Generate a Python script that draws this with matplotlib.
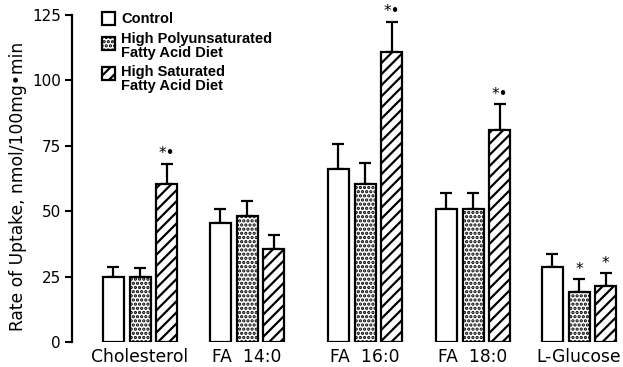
import matplotlib
matplotlib.use("Agg")
import matplotlib.pyplot as plt
import matplotlib.patches as patches
import numpy as np

# -----------------------------
# Data
# -----------------------------
categories = ["Cholesterol", "FA  14:0", "FA  16:0", "FA  18:0", "L-Glucose"]
series = ["Control", "High Polyunsaturated\nFatty Acid Diet", "High Saturated\nFatty Acid Diet"]

control = [25.0, 45.5, 66.0, 51.0, 28.5]
control_err = [3.8, 5.5, 9.5, 6.0, 5.3]
poly = [25.0, 48.0, 60.5, 51.0, 19.0]
poly_err = [3.2, 6.0, 8.0, 6.0, 5.0]
sat = [60.5, 35.5, 111.0, 81.0, 21.5]
sat_err = [7.5, 5.5, 11.5, 9.8, 4.8]

# significance marks per series/category
control_marks = ["", "", "", "", ""]
poly_marks = ["", "", "", "", "*"]
sat_marks = ["*•", "", "*•", "*•", "*"]

yticks = [0, 25, 50, 75, 100, 125]

# -----------------------------
# Layout / style
# -----------------------------
W, H = 623, 367
group_pos = [68, 175, 293, 401, 507]   # group centres (pixel-like x units)
step = 26.7
bar_w = 21
hatches = ["", "....", "///"]

plt.rcParams["font.family"] = ["DejaVu Sans"]
plt.rcParams["hatch.linewidth"] = 1.6
plt.rcParams["hatch.color"] = "black"

fig = plt.figure(figsize=(W / 100, H / 100), dpi=100)
ax = fig.add_axes([72 / W, 25 / H, (W - 72) / W, 327 / H])
ax.set_xlim(0, W - 72)
ax.set_ylim(0, 125)

vals = [control, poly, sat]
errs = [control_err, poly_err, sat_err]
marks = [control_marks, poly_marks, sat_marks]
x0 = np.array(group_pos, dtype=float)

for i in range(3):
    xs = x0 + (i - 1) * step
    ax.bar(xs, vals[i], width=bar_w, color="white", edgecolor="black",
           linewidth=1.6, hatch=hatches[i], zorder=2)
    ax.errorbar(xs, vals[i], yerr=[np.zeros(5), errs[i]], fmt="none",
                ecolor="black", elinewidth=1.6, capsize=4, capthick=1.6, zorder=1)
    for x, v, e, m in zip(xs, vals[i], errs[i], marks[i]):
        if m:
            ax.text(x, v + e + 1.0, m, ha="center", va="bottom",
                    fontsize=11, color="black")

# -----------------------------
# Axes styling
# -----------------------------
for s in ["top", "right", "bottom"]:
    ax.spines[s].set_visible(False)
ax.spines["left"].set_linewidth(1.6)
ax.set_yticks(yticks)
ax.set_yticklabels([str(t) for t in yticks], fontsize=11)
ax.tick_params(axis="y", direction="out", length=5, width=1.5, pad=3)
ax.set_xticks(x0)
ax.set_xticklabels(categories, fontsize=12.3)
ax.tick_params(axis="x", length=0, pad=4)

fig.text(18 / W, 1 - 186 / H, "Rate of Uptake, nmol/100mg•min", rotation=90,
         ha="center", va="center", fontsize=12.3)

# -----------------------------
# Legend (drawn by hand)
# -----------------------------
def fig_box(px, py, w, h, hatch):
    r = patches.Rectangle((px / W, 1 - (py + h) / H), w / W, h / H,
                          transform=fig.transFigure, facecolor="white",
                          edgecolor="black", linewidth=1.6, hatch=hatch)
    fig.patches.append(r)

box_tops = [12, 37, 67]
text_rows = [[19], [39, 53], [72, 86]]
for i in range(3):
    fig_box(102, box_tops[i], 13, 13, hatches[i])
    for line, ty in zip(series[i].split("\n"), text_rows[i]):
        fig.text(121 / W, 1 - ty / H, line, ha="left", va="center",
                 fontsize=10.5, fontweight="bold",
                 family=["Liberation Sans", "DejaVu Sans"])

fig.savefig("out.png", dpi=100)
